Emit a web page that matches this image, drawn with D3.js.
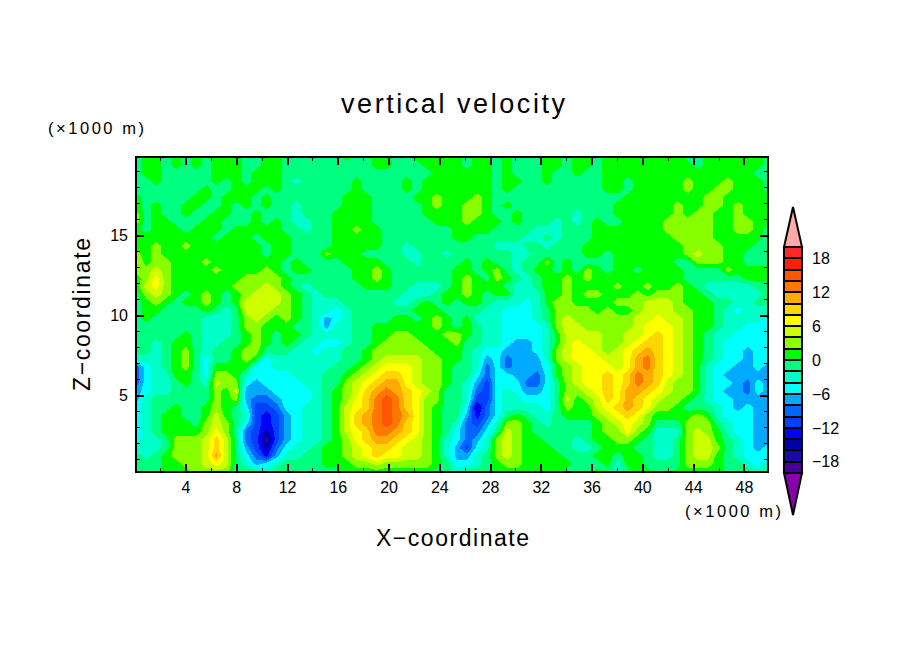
<!DOCTYPE html>
<html>
<head>
<meta charset="utf-8">
<script src="https://cdn.jsdelivr.net/npm/d3@7"></script>
<style>
body { margin: 0; background: #fff; }
text { font-family: "Liberation Sans", sans-serif; fill: #000; }
</style>
</head>
<body>
<div id="chart"></div>
<script>
//contour levels (m/s) and the colour of each band, lowest first
var levels = d3.range(-20, 21, 2);
var bandColors = ["#8800aa", "#440099", "#1a0aa0", "#0000a8", "#0000ff", "#0040ff", "#0066ff", "#00aaff",
    "#00ffff", "#00ffc8", "#00ff80", "#00ff00", "#88ff00", "#ccff00", "#ffff00", "#ffd700",
    "#ffaa00", "#ff7700", "#ff5500", "#ff2000", "#ff2828", "#ffaaaa"];
var colorbarTicks = [18, 12, 6, 0, -6, -12, -18];

var xMajor = [4, 8, 12, 16, 20, 24, 28, 32, 36, 40, 44, 48];
var xMinor = [2, 6, 10, 14, 18, 22, 26, 30, 34, 38, 42, 46];
var zMajor = [5, 10, 15];
var zMinor = [1, 2, 3, 4, 6, 7, 8, 9, 11, 12, 13, 14, 16, 17, 18, 19];

var xRange = [0.1, 49.9];
var zRange = [19.9, 0.2]; //rows below go from top of domain to bottom

//vertical velocity, one row per height, top row first
var wValues = [
[-1,1,1,-1,1,-1,1,-1,1,1,1,-1,-1,1,1,-1,-1,-1,-1,-1,-1,1,-1,-1,1,1,-1,-1,1,1,1,1, 1,-1,1,1,-1,1,-1,-1,-1,1,1,-1,1,1,-1,1,1,1,1,1,1,1,1,-1,-1,1,1,1,1,1,1,-1],
[-1,1,1,-1,1,-1,1,-1,1,1,1,-1,-1,1,1,-1,-1,-1,-1,-1,-1,-1,-1,-1,1,1,-1,-1,-1,1,1,1, 1,-1,1,1,-1,1,-1,-1,-1,1,1,-1,1,1,-1,1,1,1,1,1,1,1,1,1,-1,1,1,1,1,1,1,-1],
[-1,1,1,-1,-1,-1,-1,-1,1,1,1,-1,1,1,1,-1,-1,-1,-1,-1,-1,-1,-1,-1,-1,-1,-1,-1,-1,-1,1,1, 1,1,1,1,-1,1,-1,-1,-1,1,-1,-1,1,-1,-1,1,1,1,1,1,1,1,1,1,1,1,1,1,1,1,-1,-1],
[-1,-1,1,-1,-1,-1,-1,-1,1,-1,1,-1,1,1,1,-1,-3,-1,-1,-1,-1,-1,1,-1,-1,-1,-1,1,-1,1,1,1, 1,1,1,1,-1,1,1,-1,-1,1,-1,-1,-1,-1,-1,1,1,-1,1,1,1,1,1,3,1,1,1,3,1,1,1,-1],
[-1,-1,-1,-1,-1,-1,-1,1,-1,-1,1,1,1,-1,1,-1,-1,-1,-1,-1,-1,-1,1,-1,-1,-1,-1,1,-1,1,1,1, 1,1,1,1,-1,1,-1,-1,-1,-1,-1,-1,-1,-1,-1,1,1,-1,1,1,1,1,1,3,1,1,3,3,1,1,1,-1],
[1,-1,-1,-1,-1,-1,1,1,-1,1,1,1,-1,1,-1,-1,-1,-1,-1,-1,-1,1,1,1,-1,-1,-1,-1,1,1,3,1, 1,1,3,1,-1,-1,-1,-1,-1,-1,-1,-1,-1,-1,-1,-1,-1,1,1,1,1,1,1,1,1,3,3,1,1,1,1,1],
[1,-1,1,-1,-1,1,1,-1,-1,1,-1,1,-1,1,-1,-1,-3,-1,-1,-1,-1,1,1,1,-1,-1,-1,-1,-1,1,3,1, 1,3,3,1,-1,1,-1,-1,-1,-1,-1,-1,-1,-1,-1,-1,1,1,1,1,1,1,3,1,1,3,3,1,3,1,1,1],
[3,-1,1,-1,-1,1,-1,-1,1,1,-1,-1,1,-1,-1,-1,-3,-1,-1,-1,1,1,1,1,-1,-1,-1,-1,-1,1,1,1, 1,3,3,1,-1,-1,1,-1,-1,-1,-1,-1,-3,-1,-1,-1,1,1,1,1,1,1,3,1,3,3,1,1,3,1,1,1],
[3,-1,1,1,-1,-1,-1,1,1,-1,-1,-1,1,-1,1,-1,-3,-3,-1,-1,1,1,1,1,-1,-1,-1,-1,-1,-1,1,1, 1,3,1,1,1,-1,1,-1,-1,-1,-3,-1,-3,-1,1,-1,-1,1,1,1,1,3,3,3,3,3,1,1,3,3,1,1],
[1,-1,1,1,1,-1,1,1,1,-1,1,1,1,1,1,-1,-1,-3,-1,-1,1,1,3,1,1,-1,-1,-1,-1,-1,-1,-1, 1,1,1,1,-1,-1,-1,-1,-3,-3,-3,-1,-1,-1,1,1,1,1,1,1,1,3,3,3,3,3,1,1,3,3,1,-1],
[1,1,1,1,1,1,1,1,-1,1,1,1,-1,1,1,1,-1,-1,-1,-1,1,1,1,1,1,-1,-1,-1,-1,-1,-1,-1, 1,1,-1,-1,-1,-1,-1,-3,-3,-1,-3,-1,-1,-1,1,1,1,1,1,1,1,1,3,3,3,3,1,1,1,1,1,-1],
[1,1,3,1,1,3,1,1,1,1,1,1,1,-1,1,1,-1,-1,-1,-1,1,1,1,1,1,-1,-1,-3,-1,-1,-1,-1, -1,-1,-1,-1,-3,-3,-3,-1,-1,-3,-1,-1,-1,1,1,1,1,1,1,1,1,1,1,3,3,3,3,1,1,1,-1,-1],
[3,1,3,1,1,1,1,1,1,1,1,1,1,-1,1,1,-1,-1,-1,3,1,1,1,-1,-1,-1,-1,-3,-3,-1,-1,-3, -1,-1,-1,-1,-1,-1,-3,-3,-1,-1,-1,-1,-1,1,1,-1,1,1,1,1,1,1,1,3,5,3,3,1,1,-1,-1,-1],
[5,1,3,3,1,1,1,3,1,1,1,1,1,1,1,-1,1,-1,-1,-1,-1,1,1,1,1,-1,-1,-1,-3,-1,-1,-1, -1,1,-1,1,-1,-1,-3,-1,-1,3,-1,1,-1,-1,-1,-1,1,1,1,1,1,1,-1,-1,3,3,3,1,1,-1,-1,-1],
[3,3,5,3,1,1,1,1,3,1,1,1,1,3,1,-1,1,1,-1,-1,-1,-1,1,1,3,1,-1,-1,-1,-1,-1,-1, 1,1,-1,1,3,-1,-3,-1,1,1,-1,1,-1,3,1,-1,1,1,-1,1,1,1,1,-1,-1,-1,-1,3,1,1,1,1],
[1,3,7,3,1,1,1,1,1,1,1,3,3,3,3,1,-1,-1,-1,-1,-1,-1,1,1,3,1,-1,-1,-1,-1,-1,-1, 1,3,1,-1,3,1,-1,-3,-1,1,1,3,1,3,1,1,1,1,1,1,1,1,1,-1,-1,-1,-1,-1,-1,1,1,1],
[1,5,7,3,1,1,1,1,1,1,3,3,3,5,3,1,-1,-3,-1,-1,-1,-1,-1,1,1,1,-1,-1,-3,-3,-3,-1, 1,3,1,1,1,-1,-3,-3,-1,1,1,3,1,1,1,1,3,1,1,3,1,1,3,1,-1,-3,-3,-3,-3,-3,-1,-1],
[-1,3,5,3,1,-1,1,3,1,-1,1,3,5,5,5,3,1,-1,-3,-1,-1,-1,-1,-1,-1,-1,-1,-3,-3,-3,-1,1, 1,3,1,-1,1,1,-3,-3,-3,1,1,3,1,3,3,1,1,1,3,1,3,3,3,1,1,-1,-3,-3,-3,-3,-3,-1],
[-1,1,3,1,-1,1,1,3,1,-1,1,5,5,5,5,3,1,-1,-3,-3,-3,-1,-1,-1,-1,-1,-3,-3,-1,1,-1,1, -1,1,1,-1,-3,-3,-3,-5,-3,1,3,3,1,1,1,1,3,3,3,5,5,5,3,1,1,1,-1,-1,-3,-3,-1,-1],
[-1,1,1,-1,-1,-1,-1,1,-1,-3,-1,5,5,5,3,3,1,-1,-3,-3,-5,-3,-1,-1,-1,-1,-1,-1,1,1,1,-1, -1,-1,-1,-3,-3,-5,-5,-5,-3,-1,3,3,3,3,1,3,1,1,3,5,5,5,3,3,1,1,-1,-3,-5,-3,-3,-3],
[-1,1,-1,-1,-1,-1,-1,-3,-3,-3,-1,3,5,3,1,3,1,-1,-3,-7,-5,-3,-1,-1,-1,-1,1,1,-1,1,3,1, -1,1,-3,-3,-3,-5,-5,-5,-3,-1,3,5,3,3,3,3,3,3,5,5,7,5,5,3,1,1,-1,-3,-3,-3,-3,-5],
[-1,-1,-1,-1,-1,-1,-1,-3,-3,-3,-1,3,3,1,1,1,-1,-1,-3,-7,-3,-3,-1,-1,1,1,1,1,1,1,3,1, -1,1,-1,-3,-3,-5,-5,-5,-5,-3,3,5,5,3,3,3,3,3,5,7,7,7,5,3,1,1,-1,-3,-3,-5,-5,-5],
[-1,-1,-1,-1,-1,1,-1,-3,-3,-3,-1,1,3,1,-1,1,1,-1,-3,-3,-3,-3,-1,-1,1,1,3,3,1,1,1,3, 3,1,-1,-3,-3,-5,-5,-5,-5,-3,1,5,5,5,5,3,3,5,5,7,9,7,5,3,1,-1,-3,-3,-5,-5,-5,-5],
[-1,-1,-3,-1,1,1,-1,-3,-3,-1,-1,1,3,1,-1,1,-1,-3,-3,-5,-5,-3,-1,-1,1,3,3,3,3,1,1,1, 3,-1,-1,-3,-3,-5,-7,-7,-5,-3,1,5,7,5,5,3,3,5,7,9,9,7,5,3,1,-1,-3,-5,-5,-5,-5,-5],
[-1,-1,-3,-1,1,3,-1,-3,-1,-1,1,3,3,-1,-1,-1,-3,-3,-5,-3,-3,-1,-1,1,3,3,3,3,3,3,1,1, 1,-1,-3,-5,-5,-7,-7,-7,-5,-3,3,5,7,7,5,3,5,7,9,11,9,7,5,3,1,-1,-3,-5,-5,-7,-5,-5],
[-3,-3,-3,-1,1,3,-1,-5,-1,-1,1,3,1,-5,-3,-3,-3,-3,-3,-3,-3,-1,-1,1,3,5,5,5,5,3,3,1, 1,-1,-3,-7,-5,-9,-7,-7,-7,-3,3,5,7,7,7,5,5,7,11,13,9,7,5,3,1,-1,-3,-5,-5,-7,-5,-5],
[-9,-5,-3,-1,1,3,-1,-5,1,1,1,1,-5,-5,-3,-3,-3,-3,-3,-3,-1,-1,1,3,5,7,7,7,5,3,3,1, -1,-1,-3,-9,-5,-9,-7,-7,-7,-5,1,3,5,7,7,7,5,7,11,13,9,7,5,3,1,-3,-5,-5,-7,-7,-5,-7],
[-9,-5,-3,-3,1,1,-1,-5,3,3,1,-3,-5,-5,-5,-5,-3,-3,-3,-1,-1,1,3,5,7,9,9,7,5,3,3,1, -1,-1,-5,-9,-5,-5,-7,-7,-9,-5,1,3,5,7,7,9,7,9,13,11,9,7,5,3,1,-3,-5,-7,-7,-7,-7,-7],
[-9,-5,-3,-3,-1,1,-1,-3,5,3,3,-5,-7,-5,-5,-5,-5,-3,-3,-1,-1,3,5,7,9,11,11,7,5,3,3,1, -1,-3,-7,-11,-5,-5,-5,-9,-9,-5,-1,3,5,7,7,9,7,9,13,11,9,5,3,3,1,-3,-5,-5,-7,-9,-5,-7],
[-7,-5,-3,-3,-1,-1,-1,-1,3,1,5,-7,-7,-7,-5,-5,-5,-5,-3,-1,1,3,5,9,11,13,11,9,7,5,3,-1, -1,-3,-9,-11,-5,-3,-5,-7,-7,-5,-1,3,3,5,7,9,7,11,11,9,7,5,3,3,1,-3,-5,-7,-7,-9,-5,-7],
[-7,-3,-1,-1,-1,-1,-1,-1,3,1,3,-7,-9,-9,-7,-5,-5,-5,-3,-1,1,3,7,9,13,15,13,9,7,3,3,-1, -1,-3,-11,-11,-5,-3,-3,-5,-5,-5,-1,5,1,3,5,9,7,11,9,7,5,3,3,1,-1,-3,-5,-5,-7,-7,-7,-7],
[-5,-3,-1,-1,1,-1,-1,1,3,1,-1,-5,-11,-11,-9,-5,-5,-3,-3,-1,1,5,7,9,13,15,13,9,7,3,1,-1, -1,-5,-15,-9,-5,-3,-3,-3,-3,-5,-1,3,1,1,5,7,9,11,9,7,3,3,1,-1,-1,-1,-3,-5,-7,-5,-7,-7],
[-5,-3,-1,1,1,-1,-1,1,5,1,-1,-3,-11,-13,-11,-7,-5,-3,-3,-1,1,5,9,11,13,15,13,11,7,3,1,-1, -1,-7,-13,-9,-5,-1,1,-1,-3,-3,-1,1,1,1,3,5,7,9,7,3,1,1,1,1,3,1,-3,-5,-5,-5,-7,-7],
[-5,-3,-1,1,1,1,-1,3,5,3,-1,-5,-11,-13,-11,-7,-5,-3,-3,-1,1,5,9,11,13,15,13,9,7,3,1,-1, -3,-9,-11,-7,-3,3,3,1,-1,-3,-1,-1,-1,-1,1,3,5,7,5,3,-1,-1,-1,3,3,3,-1,-3,-5,-5,-7,-7],
[-5,-3,-1,1,1,1,1,3,7,3,-1,-9,-11,-15,-11,-7,-5,-3,-3,-1,1,5,7,9,13,13,11,9,7,3,1,-1, -5,-9,-9,-5,-1,5,3,1,-1,-1,-1,-1,-1,-1,1,3,3,7,3,1,-3,-3,-3,3,5,3,1,-3,-5,-5,-7,-7],
[-5,-3,-3,-1,3,3,3,5,9,5,-1,-9,-11,-17,-11,-7,-5,-3,-3,-1,1,3,7,9,11,11,9,7,5,3,1,-3, -5,-9,-7,-3,3,5,3,1,1,-1,-1,-1,-3,-1,1,1,3,3,1,-1,-3,-3,-1,3,5,5,1,-1,-3,-5,-7,-7],
[-3,-3,-3,-1,3,3,3,5,9,5,-1,-7,-11,-15,-9,-5,-3,-3,-1,1,1,3,5,7,9,9,7,5,5,3,1,-3, -7,-11,-5,-3,3,5,3,1,1,1,-1,-1,-3,-3,-1,1,1,1,-1,-1,-3,-3,-1,3,5,5,3,-1,-3,-5,-7,-5],
[-1,-3,-1,1,3,3,3,5,11,5,-1,-5,-9,-13,-7,-3,-3,-1,-1,1,1,3,5,7,9,7,7,5,5,3,1,-3, -7,-7,-3,-1,3,5,3,1,1,1,1,-1,-1,-1,1,1,-1,1,1,-1,-3,-3,-1,3,5,5,1,-1,-3,-5,-5,-5],
[-1,-1,-1,1,1,3,3,5,7,5,-1,-3,-7,-5,-3,-1,-1,-1,-1,1,1,1,3,3,5,3,3,3,3,3,1,-1, -5,-5,-3,-1,1,3,3,1,1,1,1,1,-1,-1,-1,1,-3,1,1,-1,-1,-1,-1,3,3,3,1,-1,-1,-3,-5,-3],
[-1,-1,-1,1,1,1,3,3,3,3,-1,-1,-1,-3,-1,-1,-1,-1,-1,-1,-1,1,1,1,1,1,1,1,1,1,-1,-1, -3,-1,-1,-1,1,1,1,1,1,1,1,-1,-1,-1,1,-1,-3,-1,1,1,-1,-1,1,1,1,1,1,-1,-1,-1,-3,-1]
];

var nz = wValues.length;
var nx = wValues[0].length;
wValues.forEach(function(row, j) {
    if (row.length != nx) { throw new Error("row " + j + " has " + row.length + " values"); }
});

var svg = d3.select("#chart").append("svg")
    .attr("width", 904)
    .attr("height", 654);

var x = d3.scaleLinear().domain(xRange).range([136, 768]);
var z = d3.scaleLinear().domain(zRange).range([157, 472]);

//grid index to data coordinate
var colToX = d3.scaleLinear().domain([0, nx - 1]).range(xRange);
var rowToZ = d3.scaleLinear().domain([0, nz - 1]).range(zRange);

var bandColor = d3.scaleThreshold().domain(levels).range(bandColors);

drawContours();
drawAxes();
drawColorbar();
drawLabels();

function drawContours() {
    svg.append("clipPath").attr("id", "plotClip")
      .append("rect")
        .attr("x", x.range()[0])
        .attr("y", z.range()[0])
        .attr("width", x.range()[1] - x.range()[0])
        .attr("height", z.range()[1] - z.range()[0]);

    var contours = d3.contours()
        .size([nx, nz])
        .thresholds(levels)
        (d3.merge(wValues));

    //d3.contours puts grid point i at i + 0.5
    var path = d3.geoPath(d3.geoTransform({
        point: function(px, py) {
            this.stream.point(x(colToX(px - 0.5)), z(rowToZ(py - 0.5)));
        }
    }));

    var plot = svg.append("g").attr("clip-path", "url(#plotClip)");
    plot.append("rect")
        .attr("x", 136).attr("y", 157)
        .attr("width", 632).attr("height", 315)
        .attr("fill", bandColors[0]);
    plot.selectAll("path")
        .data(contours)
        .enter()
        .append("path")
        .attr("d", path)
        .attr("fill", function(d) { return bandColor(d.value); })
        .attr("shape-rendering", "crispEdges");
}

function drawAxes() {
    var g = svg.append("g").attr("class", "axes");

    function addAxis(axis, tx, ty, width) {
        var a = g.append("g")
            .attr("transform", "translate(" + tx + "," + ty + ")")
            .call(axis);
        a.select(".domain").remove();
        a.selectAll("line")
            .attr("stroke", "#000")
            .attr("stroke-width", width)
            .attr("shape-rendering", "crispEdges");
        a.selectAll("text")
            .attr("font-family", null)
            .style("font-size", "16px")
            .attr("fill", "#000");
        return a;
    }

    var b = z.range()[1], t = z.range()[0], l = x.range()[0], r = x.range()[1];

    //ticks all point into the plot
    addAxis(d3.axisBottom(x).tickValues(xMajor).tickSize(-8).tickSizeOuter(0).tickPadding(10), 0, b, 2);
    addAxis(d3.axisBottom(x).tickValues(xMinor).tickSize(-4).tickSizeOuter(0).tickFormat(""), 0, b, 1);
    addAxis(d3.axisTop(x).tickValues(xMajor).tickSize(-8).tickSizeOuter(0).tickFormat(""), 0, t, 2);
    addAxis(d3.axisTop(x).tickValues(xMinor).tickSize(-4).tickSizeOuter(0).tickFormat(""), 0, t, 1);
    addAxis(d3.axisLeft(z).tickValues(zMajor).tickSize(-8).tickSizeOuter(0).tickPadding(8), l, 0, 2);
    addAxis(d3.axisLeft(z).tickValues(zMinor).tickSize(-4).tickSizeOuter(0).tickFormat(""), l, 0, 1);
    addAxis(d3.axisRight(z).tickValues(zMajor).tickSize(-8).tickSizeOuter(0).tickFormat(""), r, 0, 2);
    addAxis(d3.axisRight(z).tickValues(zMinor).tickSize(-4).tickSizeOuter(0).tickFormat(""), r, 0, 1);

    g.append("rect")
        .attr("x", l).attr("y", t)
        .attr("width", r - l).attr("height", b - t)
        .attr("fill", "none")
        .attr("stroke", "#000")
        .attr("stroke-width", 2.5)
        .attr("shape-rendering", "crispEdges");
}

function drawColorbar() {
    var barLeft = 784, barRight = 802, tipTop = 207, tipBottom = 515;
    var cb = d3.scaleLinear().domain([-20, 20]).range([473, 247]);
    var g = svg.append("g").attr("class", "colorbar");

    g.selectAll("rect.band")
        .data(d3.pairs(levels))
        .enter()
        .append("rect")
        .attr("class", "band")
        .attr("x", barLeft)
        .attr("y", function(d) { return cb(d[1]); })
        .attr("width", barRight - barLeft)
        .attr("height", function(d) { return cb(d[0]) - cb(d[1]); })
        .attr("fill", function(d) { return bandColor(d[0]); })
        .attr("stroke", "#000")
        .attr("stroke-width", 2)
        .attr("shape-rendering", "crispEdges");

    //over and under triangles
    var mid = (barLeft + barRight) / 2;
    var ends = [
        {tip: tipTop, base: cb(20), fill: bandColors[bandColors.length - 1]},
        {tip: tipBottom, base: cb(-20), fill: bandColors[0]}
    ];
    g.selectAll("path")
        .data(ends)
        .enter()
        .append("path")
        .attr("d", function(d) {
            return d3.line()([[barLeft, d.base], [mid, d.tip], [barRight, d.base]]) + "Z";
        })
        .attr("fill", function(d) { return d.fill; })
        .attr("stroke", "#000")
        .attr("stroke-width", 2);

    g.selectAll("text")
        .data(colorbarTicks)
        .enter()
        .append("text")
        .attr("x", 812)
        .attr("y", function(d) { return cb(d); })
        .attr("dy", "0.36em")
        .style("font-size", "16px")
        .text(function(d) { return d < 0 ? "\u2212" + (-d) : d; });
}

function drawLabels() {
    function addText(str, px, py, size, len, rotate) {
        var t = svg.append("text")
            .attr("x", px)
            .attr("y", py)
            .attr("textLength", len)
            .attr("lengthAdjust", "spacing")
            .style("font-size", size + "px")
            .text(str);
        if (rotate) { t.attr("transform", "rotate(-90 " + px + " " + py + ")"); }
    }
    addText("vertical velocity", 341, 113, 27, 224);
    addText("X\u2212coordinate", 376, 546, 23, 153);
    addText("Z\u2212coordinate", 90, 391, 23, 153, true);
    addText("(\u00d71000 m)", 48, 134, 16.5, 96);
    addText("(\u00d71000 m)", 685, 517, 16.5, 96);
}
</script>
</body>
</html>
